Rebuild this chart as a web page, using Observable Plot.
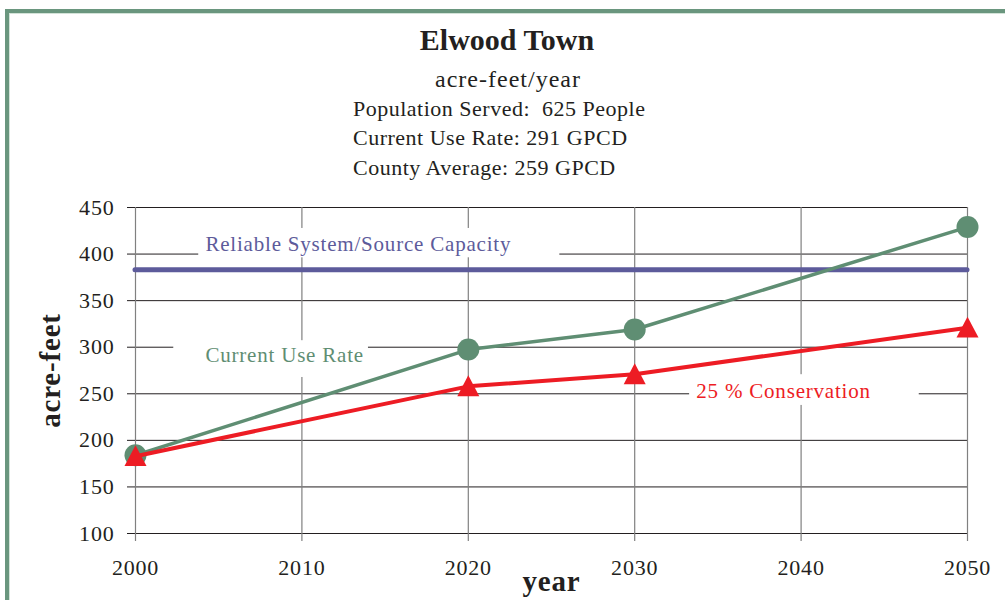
<!DOCTYPE html>
<html>
<head>
<meta charset="utf-8">
<script src="https://cdn.jsdelivr.net/npm/d3@7"></script>
<script src="https://cdn.jsdelivr.net/npm/@observablehq/plot@0.6"></script>
<style>
  html, body { margin: 0; padding: 0; background: #fff; overflow: hidden; }
  #page {
    position: relative; width: 1005px; height: 600px; overflow: hidden;
    font-family: "Liberation Serif", "Times New Roman", serif; color: #231f20;
  }
  #frame {
    position: absolute; left: 5px; top: 9px; width: 1200px; height: 800px;
    border-top: 4px solid #6a967e; border-left: 4px solid #6a967e;
    box-shadow: inset 1px 1px 0 #d3e3d8;
  }
  .hdr { position: absolute; white-space: nowrap; line-height: 1; }
  #title { left: 0; width: 1014px; text-align: center; top: 25px; font-size: 30px; font-weight: bold; }
  #subtitle { left: 0; width: 1016px; text-align: center; top: 67px; font-size: 24px; letter-spacing: 1px; }
  .info { left: 353px; font-size: 22px; letter-spacing: 0.5px; }
  #chart { position: absolute; left: 0; top: 190px; }
  #chart svg text { letter-spacing: 0.8px; }
  #chart svg text.axis-title { letter-spacing: 0; }
</style>
</head>
<body>
<div id="page">
  <div id="frame"></div>
  <div id="title" class="hdr">Elwood Town</div>
  <div id="subtitle" class="hdr">acre-feet/year</div>
  <div class="hdr info" style="top:98px">Population Served:&nbsp; 625 People</div>
  <div class="hdr info" style="top:127px">Current Use Rate: 291 GPCD</div>
  <div class="hdr info" style="top:157px">County Average: 259 GPCD</div>
  <div id="chart"></div>
</div>
<script>
// Projected water demand, acre-feet per year
const years = [2000, 2020, 2030, 2050];
const currentUseRate = [184, 297.5, 319, 429];
const conservation25 = [183, 258, 271, 321];
const systemCapacity = 383.3;

const yearTicks = [2000, 2010, 2020, 2030, 2040, 2050];
const acreFeetTicks = [100, 150, 200, 250, 300, 350, 400, 450];

const seriesNames = ["Reliable System/Source Capacity", "Current Use Rate", "25 % Conservation"];

const purple = "#5d5b9b";
const green = "#5f8e73";
const red = "#ed1c24";
const ink = "#231f20";
const gridGray = "#808080";

const currentRows = years.map((year, i) => ({year, value: currentUseRate[i]}));
const conservationRows = years.map((year, i) => ({year, value: conservation25[i]}));

// Series labels sit on white boxes that interrupt the gridlines
const labelBoxes = [
  {x1: 2003.8, x2: 2025.5, y1: 396, y2: 427.5},
  {x1: 2002.3, x2: 2014.0, y1: 267.5, y2: 307},
  {x1: 2033.3, x2: 2047.1, y1: 237.5, y2: 270.5}
];
const labelAnchors = [
  {year: 2004.2, value: 410, color: purple},
  {year: 2004.2, value: 291, color: green},
  {year: 2033.7, value: 253, color: red}
];

// Upward triangle centred on its bounding box
const triangleUp = {
  draw(context, size) {
    const r = Math.sqrt(size / Math.PI);
    context.moveTo(0, -r);
    context.lineTo(r, r * 0.9);
    context.lineTo(-r, r * 0.9);
    context.closePath();
  }
};

const labelMarks = labelAnchors.map((a, i) =>
  Plot.text([a], {
    x: "year", y: "value", text: () => seriesNames[i],
    textAnchor: "start", fill: a.color, fontSize: 21
  })
);

const chart = Plot.plot({
  width: 1005,
  height: 410,
  marginLeft: 135,
  marginRight: 38,
  marginTop: 17,
  marginBottom: 67,
  x: {domain: [2000, 2050], axis: null},
  y: {domain: [100, 450], axis: null},
  style: {
    fontFamily: "'Liberation Serif', 'Times New Roman', serif",
    fontSize: "21px",
    color: ink,
    background: "transparent",
    overflow: "visible"
  },
  marks: [
    Plot.gridY(acreFeetTicks, {stroke: ink, strokeOpacity: 1, strokeWidth: 1}),
    Plot.gridX(yearTicks, {stroke: gridGray, strokeOpacity: 1, strokeWidth: 1.2}),
    Plot.axisY(acreFeetTicks, {
      tickSize: 8, tickPadding: 13, stroke: ink, fill: ink, fontSize: 22
    }),
    Plot.axisX(yearTicks, {
      tickSize: 8, tickPadding: 18, tickFormat: "d", stroke: gridGray, strokeWidth: 1.2,
      fill: ink, fontSize: 22
    }),
    Plot.rect(labelBoxes, {x1: "x1", x2: "x2", y1: "y1", y2: "y2", fill: "white"}),
    Plot.ruleY([systemCapacity], {
      x1: years[0], x2: years[years.length - 1], stroke: purple, strokeWidth: 5, strokeLinecap: "round"
    }),
    Plot.line(currentRows, {x: "year", y: "value", stroke: green, strokeWidth: 3.5}),
    Plot.dot(currentRows, {x: "year", y: "value", r: 11, fill: green, stroke: "none"}),
    Plot.line(conservationRows, {x: "year", y: "value", stroke: red, strokeWidth: 4}),
    Plot.dot(conservationRows, {x: "year", y: "value", r: 11, symbol: triangleUp, fill: red, stroke: "none"}),
    ...labelMarks,
    Plot.text(["year"], {
      frameAnchor: "bottom", lineAnchor: "middle", textAnchor: "middle", dy: 48.7,
      fontWeight: "bold", fontSize: 29, fill: ink, className: "axis-title"
    }),
    Plot.text(["acre-feet"], {
      frameAnchor: "left", lineAnchor: "middle", textAnchor: "middle", rotate: -90, dx: -84.5,
      fontWeight: "bold", fontSize: 29, fill: ink, className: "axis-title"
    })
  ]
});

document.getElementById("chart").appendChild(chart);
</script>
</body>
</html>
